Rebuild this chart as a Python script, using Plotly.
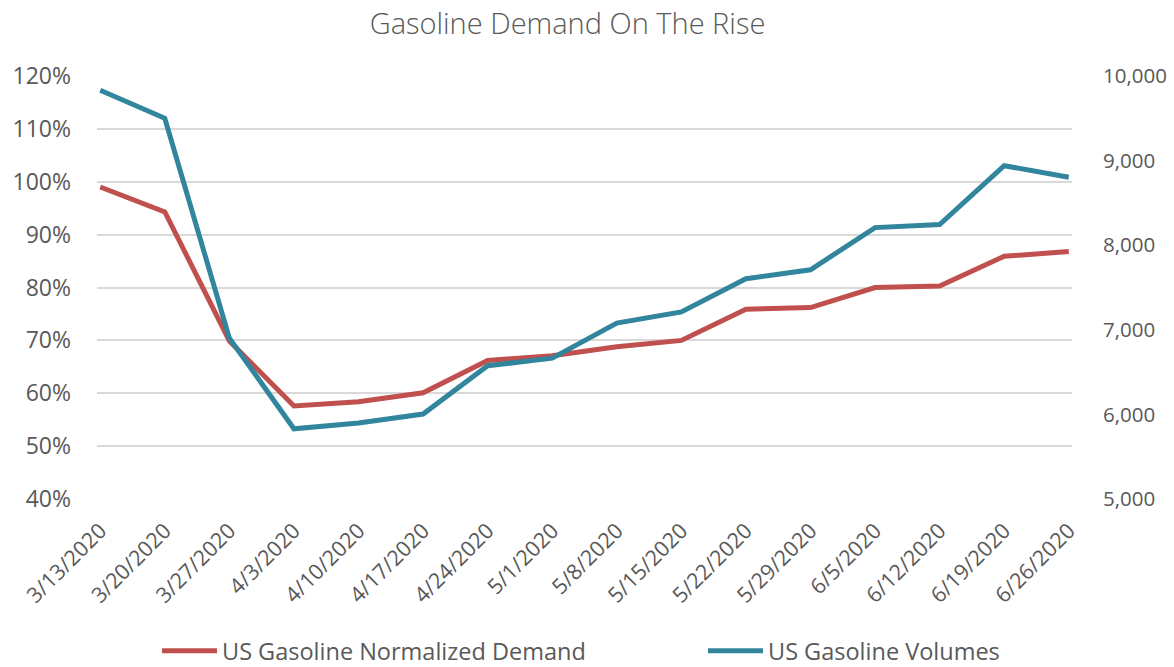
import plotly.graph_objects as go

dates = ["3/13/2020", "3/20/2020", "3/27/2020", "4/3/2020", "4/10/2020", "4/17/2020",
         "4/24/2020", "5/1/2020", "5/8/2020", "5/15/2020", "5/22/2020", "5/29/2020",
         "6/5/2020", "6/12/2020", "6/19/2020", "6/26/2020"]
normalized_demand = [0.990, 0.943, 0.699, 0.576, 0.584, 0.601, 0.662, 0.671, 0.688, 0.700,
                     0.759, 0.762, 0.800, 0.803, 0.859, 0.868]
gasoline_volumes = [9831, 9500, 6902, 5830, 5898, 6004, 6575, 6665, 7079, 7212,
                    7604, 7709, 8208, 8244, 8940, 8804]

RED = "#C0504D"
BLUE = "#31859C"
TXT = "#595959"
FONT = "Open Sans"

L, R, T, B = 97, 102, 76, 168
PW = 1174 - L - R
PH = 667 - T - B

fig = go.Figure()
fig.add_trace(go.Scatter(x=dates, y=normalized_demand, name="US Gasoline Normalized Demand",
                         mode="lines", line=dict(color=RED, width=5), yaxis="y",
                         legend="legend"))
fig.add_trace(go.Scatter(x=dates, y=gasoline_volumes, name="US Gasoline Volumes",
                         mode="lines", line=dict(color=BLUE, width=5), yaxis="y2",
                         legend="legend2"))

leg_y = -(651 - (667 - B)) / PH
fig.update_layout(
    width=1174, height=667,
    margin=dict(l=L, r=R, t=T, b=B, autoexpand=False),
    paper_bgcolor="white", plot_bgcolor="white",
    font=dict(family=FONT, color=TXT, size=20),
    title=dict(text="Gasoline Demand On The Rise", x=567.5/1174, xanchor="center",
               y=1-24/667, yanchor="middle", xref="container", yref="container",
               font=dict(family=FONT, size=29, color=TXT, weight=300)),
    xaxis=dict(type="category", range=[-0.05, 15.05], tickangle=-45, showgrid=False,
               showline=False, zeroline=False, ticks="", automargin=False,
               ticklabelstandoff=14, tickfont=dict(size=21.5, color=TXT)),
    yaxis=dict(range=[0.4, 1.2], dtick=0.1, tickformat=".0%", gridcolor="#D9D9D9",
               gridwidth=1.5, zeroline=False, showline=False, ticks="", automargin=False,
               ticklabelstandoff=25, tickfont=dict(size=23, color=TXT)),
    yaxis2=dict(range=[5000, 10000], dtick=1000, tickformat=",", overlaying="y", side="right",
                showgrid=False, zeroline=False, showline=False, ticks="", automargin=False,
                ticklabelstandoff=30, tickfont=dict(size=20.5, color=TXT)),
    legend=dict(orientation="h", x=(157-L)/PW, xanchor="left", y=leg_y,
                yanchor="middle", font=dict(size=23.5, color=TXT), itemwidth=55,
                bgcolor="rgba(0,0,0,0)"),
    legend2=dict(orientation="h", x=(703-L)/PW, xanchor="left", y=leg_y,
                 yanchor="middle", font=dict(size=23.5, color=TXT), itemwidth=55,
                 bgcolor="rgba(0,0,0,0)"),
    showlegend=True,
)

fig.write_html("out.html", config={"displayModeBar": False},
               post_script="document.body.style.margin='0px';")
